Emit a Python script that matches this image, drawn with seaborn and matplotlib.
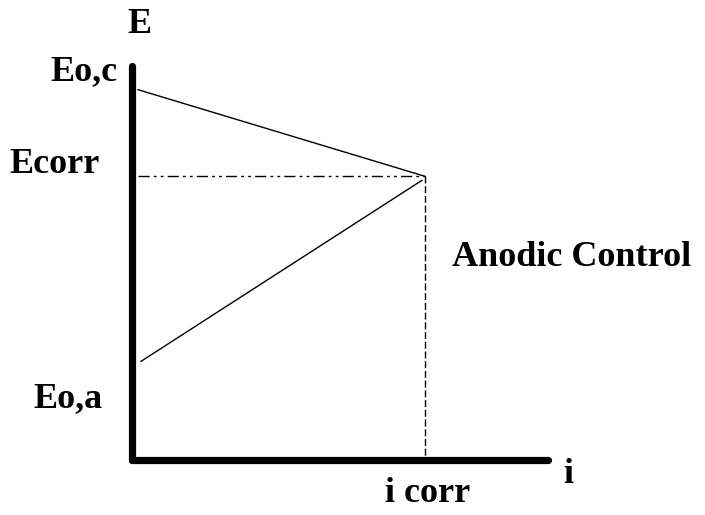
import matplotlib
matplotlib.use("Agg")
import matplotlib.pyplot as plt
import seaborn as sns
import pandas as pd

# diagram values (i in units of i_corr, E normalised to axis height)
i_corr = 1.0
i_max = 1.42
E_top = 1.0
E_oc = 0.94
E_corr = 0.72
E_oa = 0.25

cathodic = pd.DataFrame({"i": [0.02, i_corr], "E": [E_oc, E_corr]})
anodic = pd.DataFrame({"i": [0.03, i_corr - 0.01], "E": [E_oa, E_corr - 0.01]})
corr_h = pd.DataFrame({"i": [0.02, i_corr], "E": [E_corr, E_corr]})
corr_v = pd.DataFrame({"i": [i_corr, i_corr], "E": [E_corr, 0.0]})

sns.set_style("white")
plt.rcParams['font.family'] = ['Liberation Serif', 'DejaVu Serif']

fig = plt.figure(figsize=(7.05, 5.15), dpi=100)
ax = fig.add_axes([0, 0, 1, 1])

line_kw = dict(x="i", y="E", color="black", lw=1.0, ax=ax,
               estimator=None, sort=False)
sns.lineplot(data=cathodic, **line_kw)
sns.lineplot(data=anodic, **line_kw)
sns.lineplot(data=corr_h, linestyle=(0, (8, 3, 2, 3, 2, 3)), **line_kw)
sns.lineplot(data=corr_v, linestyle=(0, (5, 2)), **line_kw)

# thick axes
ax.plot([0, 0], [E_top, 0], color="black", lw=5.2, solid_capstyle="round",
        solid_joinstyle="round")
ax.plot([0, i_max], [0, 0], color="black", lw=5.2, solid_capstyle="round")

tk = dict(fontsize=26, fontweight="bold", color="black")
ax.text(0.027, 1.105, "E", ha="center", va="center", **tk)
ax.text(-0.048, 0.985, "Eo,c", ha="right", va="center", **tk)
ax.text(-0.109, 0.749, "Ecorr", ha="right", va="center", **tk)
ax.text(-0.099, 0.157, "Eo,a", ha="right", va="center", **tk)
ax.text(1.01, -0.084, "i corr", ha="center", va="center", **tk)
ax.text(1.488, -0.038, "i", ha="center", va="center", **tk)
ax.text(1.092, 0.515, "Anodic Control", ha="left", va="center", **tk)

ax.set_xlim(-0.4505, 1.9556)
ax.set_ylim(-0.1396, 1.1675)
ax.axis("off")

fig.savefig("out.png", dpi=100)
